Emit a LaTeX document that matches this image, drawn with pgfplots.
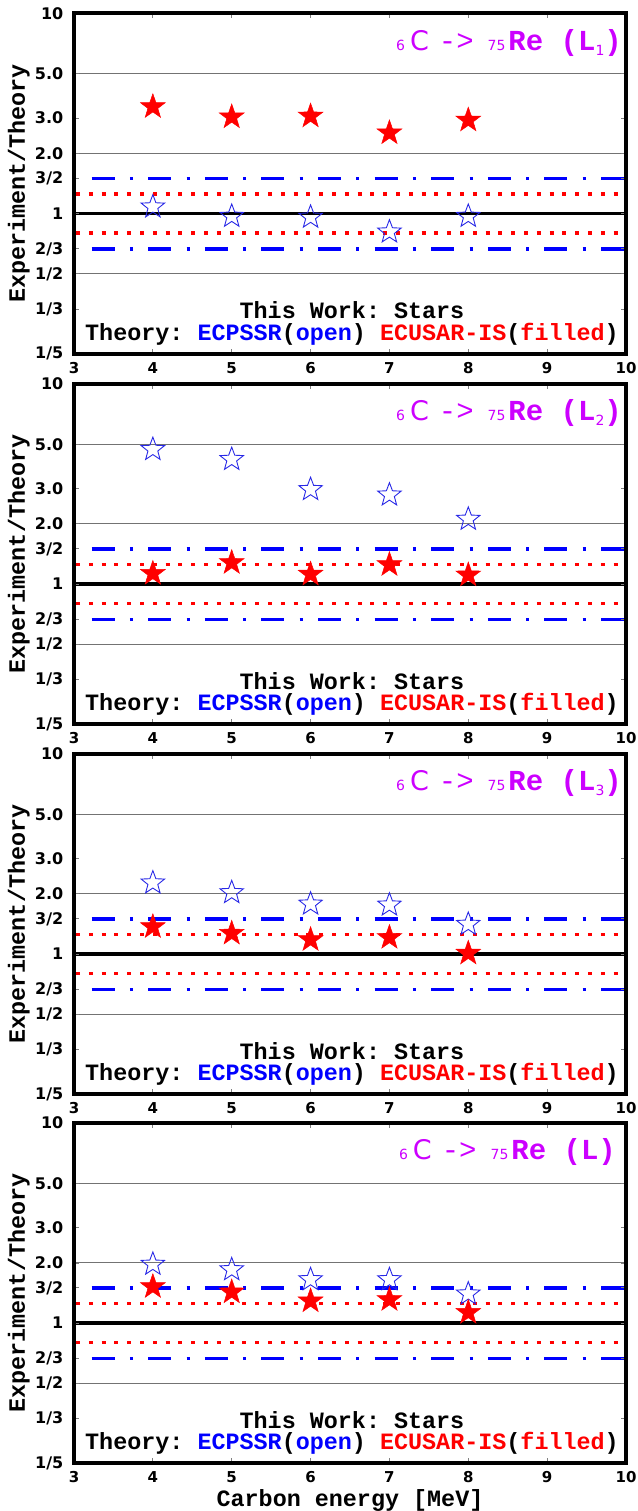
\documentclass[border=0pt]{standalone}
\usepackage{fontspec}
\usepackage{pgfplots}
\pgfplotsset{compat=1.18}
\setmainfont{DejaVu Sans}
\newfontfamily\dvs{DejaVu Sans}
\newfontfamily\mono{Liberation Mono}
\definecolor{titlec}{RGB}{204,0,255}
\definecolor{gridc}{RGB}{115,115,115}
\definecolor{openblue}{RGB}{40,40,230}
\frenchspacing
\newcommand\tickf{\dvs\bfseries\fontsize{16}{18}\selectfont}
\newcommand\xtickf{\dvs\bfseries\fontsize{15}{17}\selectfont}
\newcommand\labf{\frenchspacing\mono\bfseries\fontsize{23.4}{26}\selectfont}
\newcommand\subn[1]{\raisebox{-5pt}{\dvs\fontsize{14}{14}\selectfont #1}}
\newcommand\ttl[1]{{\dvs\fontsize{14}{14}\selectfont 6}\hspace{5pt}{\dvs\fontsize{27}{27}\selectfont C}\hspace{10pt}{\mono\fontsize{29}{29}\selectfont ->}\hspace{14pt}{\dvs\fontsize{14}{14}\selectfont 75}\hspace{3pt}{\mono\bfseries\fontsize{29}{29}\selectfont Re (L}#1{\mono\bfseries\fontsize{29}{29}\selectfont )}}

\pgfdeclareplotmark{fstar}{%
 \pgfpathmoveto{\pgfpointpolar{90}{\pgfplotmarksize}}%
 \pgfpathlineto{\pgfpointpolar{126}{0.40\pgfplotmarksize}}%
 \pgfpathlineto{\pgfpointpolar{162}{\pgfplotmarksize}}%
 \pgfpathlineto{\pgfpointpolar{198}{0.40\pgfplotmarksize}}%
 \pgfpathlineto{\pgfpointpolar{234}{\pgfplotmarksize}}%
 \pgfpathlineto{\pgfpointpolar{270}{0.40\pgfplotmarksize}}%
 \pgfpathlineto{\pgfpointpolar{306}{\pgfplotmarksize}}%
 \pgfpathlineto{\pgfpointpolar{342}{0.40\pgfplotmarksize}}%
 \pgfpathlineto{\pgfpointpolar{18}{\pgfplotmarksize}}%
 \pgfpathlineto{\pgfpointpolar{54}{0.40\pgfplotmarksize}}%
 \pgfpathclose
 \pgfusepathqfillstroke}
\pgfdeclareplotmark{ostar}{%
 \pgfpathmoveto{\pgfpointpolar{90}{\pgfplotmarksize}}%
 \pgfpathlineto{\pgfpointpolar{126}{0.42\pgfplotmarksize}}%
 \pgfpathlineto{\pgfpointpolar{162}{\pgfplotmarksize}}%
 \pgfpathlineto{\pgfpointpolar{198}{0.42\pgfplotmarksize}}%
 \pgfpathlineto{\pgfpointpolar{234}{\pgfplotmarksize}}%
 \pgfpathlineto{\pgfpointpolar{270}{0.42\pgfplotmarksize}}%
 \pgfpathlineto{\pgfpointpolar{306}{\pgfplotmarksize}}%
 \pgfpathlineto{\pgfpointpolar{342}{0.42\pgfplotmarksize}}%
 \pgfpathlineto{\pgfpointpolar{18}{\pgfplotmarksize}}%
 \pgfpathlineto{\pgfpointpolar{54}{0.42\pgfplotmarksize}}%
 \pgfpathclose
 \pgfusepathqstroke}

\pgfplotsset{
 mypanel/.style={
  scale only axis, width=552pt, height=340pt,
  xmin=3, xmax=10, ymin=0.2, ymax=10,
  xtick={3,4,5,6,7,8,9,10}, xticklabels={3,4,5,6,7,8,9,10},
  ytick={0.2,0.333333,0.5,0.666667,1,1.5,2,3,5,10},
  yticklabels={1/5,1/3,1/2,2/3,1,3/2,2.0,3.0,5.0,10},
  yminorticks=false, xminorticks=false,
  tick align=inside, major tick length=5pt,
  tick style={gray, line width=0.8pt},
  xticklabel style={font=\xtickf, anchor=north, inner sep=0pt, text depth=0pt, yshift=-8.5pt},
  yticklabel style={font=\tickf, anchor=east, inner sep=0pt, xshift=-10.5pt},
  axis line style={line width=4pt, line cap=rect},
  axis on top,
  ylabel={Experiment/Theory},
  ylabel style={font=\labf, at={(axis description cs:-0.0890,0.5)}, anchor=base, inner sep=0pt},
  clip=false,
 },
 bl/.style={blue, line width=3.7pt, dash pattern=on 23pt off 15.3pt on 3pt off 15.3pt, dash phase=39pt},
 rl/.style={red, line width=3.5pt, dash pattern=on 4pt off 8.8pt, dash phase=10.8pt},
 kl/.style={black, line width=3.5pt},
 gl/.style={gridc, line width=1pt},
 fs/.style={only marks, mark=fstar, mark size=13pt, mark options={fill=red, draw=red, line width=0.5pt}},
 os/.style={only marks, mark=ostar, mark size=12.3pt, mark options={draw=openblue, line width=0.9pt}},
}
\newcommand\reflines{%
  \addplot[gl] coordinates {(3,5) (10,5)};
  \addplot[gl] coordinates {(3,2) (10,2)};
  \addplot[gl] coordinates {(3,0.5) (10,0.5)};
  \addplot[bl] coordinates {(3,1.5) (10,1.5)};
  \addplot[bl] coordinates {(3,0.666667) (10,0.666667)};
  \addplot[rl] coordinates {(3,1.25) (10,1.25)};
  \addplot[rl] coordinates {(3,0.8) (10,0.8)};
  \addplot[kl] coordinates {(3,1) (10,1)};
}
\newcommand\legtext{%
  \node[anchor=base, font=\labf, inner sep=0pt] at (axis description cs:0.5036,0.102) {This Work: Stars};
  \node[anchor=base, font=\labf, inner sep=0pt] at (axis description cs:0.5036,0.039) {Theory: \textcolor{blue}{ECPSSR}(\textcolor{blue}{open}) \textcolor{red}{ECUSAR-IS}(\textcolor{red}{filled})};
}

\begin{document}
\begin{tikzpicture}
\useasboundingbox (0pt,0pt) rectangle (637pt,-1511pt);

% ---------- L1 ----------
\begin{axis}[ymode=log, mypanel, at={(74pt,-13.5pt)}, anchor=north west]
\reflines
\addplot[os] coordinates {(4,1.08) (5,0.97) (6,0.96) (7,0.81) (8,0.97)};
\addplot[fs] coordinates {(4,3.42) (5,3.04) (6,3.07) (7,2.53) (8,2.93)};
\node[anchor=base east, inner sep=0pt, text=titlec] at (axis description cs:0.9928,0.8926) {\ttl{\subn{1}}};
\legtext
\end{axis}

% ---------- L2 ----------
\begin{axis}[ymode=log, mypanel, at={(74pt,-384pt)}, anchor=north west]
\reflines
\addplot[os] coordinates {(4,4.71) (5,4.20) (6,2.97) (7,2.79) (8,2.11)};
\addplot[fs] coordinates {(4,1.13) (5,1.28) (6,1.12) (7,1.25) (8,1.11)};
\node[anchor=base east, inner sep=0pt, text=titlec] at (axis description cs:0.9928,0.8926) {\ttl{\subn{2}}};
\legtext
\end{axis}

% ---------- L3 ----------
\begin{axis}[ymode=log, mypanel, at={(74pt,-754pt)}, anchor=north west]
\reflines
\addplot[os] coordinates {(4,2.27) (5,2.03) (6,1.78) (7,1.76) (8,1.41)};
\addplot[fs] coordinates {(4,1.37) (5,1.27) (6,1.18) (7,1.21) (8,1.01)};
\node[anchor=base east, inner sep=0pt, text=titlec] at (axis description cs:0.9928,0.8926) {\ttl{\subn{3}}};
\legtext
\end{axis}

% ---------- L ----------
\begin{axis}[ymode=log, mypanel, at={(74pt,-1123pt)}, anchor=north west,
  xlabel={Carbon energy [MeV]},
  xlabel style={font=\labf, at={(axis description cs:0.5,0)}, anchor=base, inner sep=0pt, text height=14pt, yshift=-43pt}]
\reflines
\addplot[os] coordinates {(4,1.97) (5,1.85) (6,1.65) (7,1.65) (8,1.40)};
\addplot[fs] coordinates {(4,1.52) (5,1.43) (6,1.29) (7,1.31) (8,1.13)};
\node[anchor=base east, inner sep=0pt, text=titlec] at (axis description cs:0.982,0.8926) {\ttl{}};
\legtext
\end{axis}
\end{tikzpicture}
\end{document}
